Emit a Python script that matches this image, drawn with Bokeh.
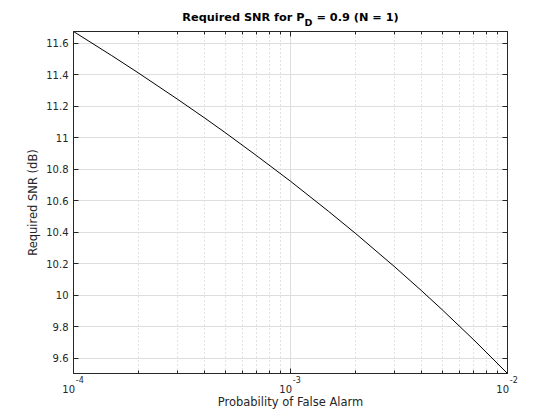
from bokeh.plotting import figure
from bokeh.models import (Range1d, FixedTicker, LinearAxis, LogAxis,
                          CustomJSTickFormatter)
from bokeh.embed import file_html
from bokeh.resources import INLINE

# Data
pfa = [1e-4, 1.5e-4, 2e-4, 3e-4, 4e-4, 5e-4, 7e-4, 1e-3, 1.5e-3, 2e-3,
       3e-3, 4e-3, 5e-3, 7e-3, 1e-2]
snr_db = [11.674, 11.521, 11.409, 11.246, 11.127, 11.032, 10.884, 10.723,
          10.531, 10.390, 10.183, 10.030, 9.907, 9.715, 9.502]

x_major = [1e-4, 1e-3, 1e-2]
x_base_label = "10"
x_exp_labels = ["-4", "-3", "-2"]
x_minor = [m * d for d in (1e-4, 1e-3) for m in range(2, 10)]
y_ticks = [9.6, 9.8, 10.0, 10.2, 10.4, 10.6, 10.8, 11.0, 11.2, 11.4, 11.6]

title_main = "Required SNR for P"
title_sub = "D"
title_rest = " = 0.9 (N = 1)"
x_label = "Probability of False Alarm"
y_label = "Required SNR (dB)"

FONT = "DejaVu Sans"
AX = "#262626"
NB = "\u00a0"
SUB_X = 1.211e-3          # horizontal place of the subscript (layout)

ymin, ymax = min(snr_db), max(snr_db)

p = figure(x_axis_type="log", x_range=Range1d(pfa[0], pfa[-1]),
           y_range=Range1d(ymin, ymax),
           frame_width=434, frame_height=342,
           min_border_left=73, min_border_right=53,
           min_border_top=31, min_border_bottom=47,
           output_backend="svg", toolbar_location=None,
           background_fill_color="white", border_fill_color="white")

p.line(pfa, snr_db, line_color="black", line_width=1)

xt = FixedTicker(ticks=x_major, minor_ticks=x_minor)
yt = FixedTicker(ticks=y_ticks, minor_ticks=[])
blank = CustomJSTickFormatter(code="return ''")


def tick_style(ax, minor_in=3):
    ax.axis_line_color = AX
    ax.major_tick_line_color = AX
    ax.minor_tick_line_color = AX
    ax.major_tick_in = 5
    ax.major_tick_out = 0
    ax.minor_tick_in = minor_in
    ax.minor_tick_out = 0


def text_only(ax):
    ax.axis_line_color = None
    ax.major_tick_line_color = None
    ax.minor_tick_line_color = None
    ax.major_tick_in = 0
    ax.major_tick_out = 0
    ax.minor_tick_in = 0
    ax.minor_tick_out = 0


# ---- bottom: tick marks, exponents, bases + label
xa = p.xaxis[0]
xa.ticker = xt
xa.formatter = blank
xa.major_label_text_font_size = "1px"
xa.major_label_standoff = 0
tick_style(xa)

x_exp_axis = LogAxis(ticker=FixedTicker(ticks=x_major, minor_ticks=[]),
                     formatter=CustomJSTickFormatter(
                         args=dict(labels=[NB * 5 + e for e in x_exp_labels]),
                         code="return labels[index]"),
                     major_label_text_font=FONT,
                     major_label_text_font_size="8px",
                     major_label_text_color=AX,
                     major_label_standoff=2)
text_only(x_exp_axis)
p.add_layout(x_exp_axis, "below")

x_base_axis = LogAxis(ticker=FixedTicker(ticks=x_major, minor_ticks=[]),
                      formatter=CustomJSTickFormatter(
                          args=dict(lab=x_base_label + NB * 3),
                          code="return lab"),
                      major_label_text_font=FONT,
                      major_label_text_font_size="10px",
                      major_label_text_color=AX,
                      major_label_standoff=-4,
                      axis_label=x_label,
                      axis_label_text_font=FONT,
                      axis_label_text_font_size="11.5px",
                      axis_label_text_font_style="normal",
                      axis_label_text_color=AX,
                      axis_label_standoff=-3)
text_only(x_base_axis)
p.add_layout(x_base_axis, "below")

# ---- left axis
ya = p.yaxis[0]
ya.ticker = yt
ya.axis_label = y_label
ya.axis_label_text_font = FONT
ya.axis_label_text_font_size = "11.5px"
ya.axis_label_text_font_style = "normal"
ya.axis_label_text_color = AX
ya.axis_label_standoff = 3
ya.major_label_text_font = FONT
ya.major_label_text_font_size = "10px"
ya.major_label_text_color = AX
ya.major_label_standoff = 5
tick_style(ya)

# ---- top: tick marks, then title with subscript
top = LogAxis(ticker=xt, formatter=blank, major_label_text_font_size="1px",
              major_label_standoff=0)
tick_style(top)
p.add_layout(top, "above")

title_axis = LogAxis(ticker=FixedTicker(ticks=[SUB_X], minor_ticks=[]),
                     formatter=CustomJSTickFormatter(
                         args=dict(lab=title_sub), code="return lab"),
                     major_label_text_font=FONT,
                     major_label_text_font_size="9.5px",
                     major_label_text_font_style="bold",
                     major_label_text_color="black",
                     major_label_standoff=4,
                     axis_label=title_main + NB * 2 + title_rest,
                     axis_label_text_font=FONT,
                     axis_label_text_font_size="11.3px",
                     axis_label_text_font_style="bold",
                     axis_label_text_color="black",
                     axis_label_standoff=-10)
text_only(title_axis)
p.add_layout(title_axis, "above")

# ---- right: tick marks only
right = LinearAxis(ticker=yt, formatter=blank,
                   major_label_text_font_size="1px", major_label_standoff=0)
tick_style(right, minor_in=0)
p.add_layout(right, "right")

p.outline_line_color = AX

p.xgrid.ticker = xt
p.xgrid.grid_line_color = "#dedede"
p.xgrid.minor_grid_line_color = "#c4c4c4"
p.xgrid.minor_grid_line_dash = "1 3"
p.ygrid.ticker = yt
p.ygrid.grid_line_color = "#dedede"

open("out.html", "w").write(file_html(p, INLINE))
